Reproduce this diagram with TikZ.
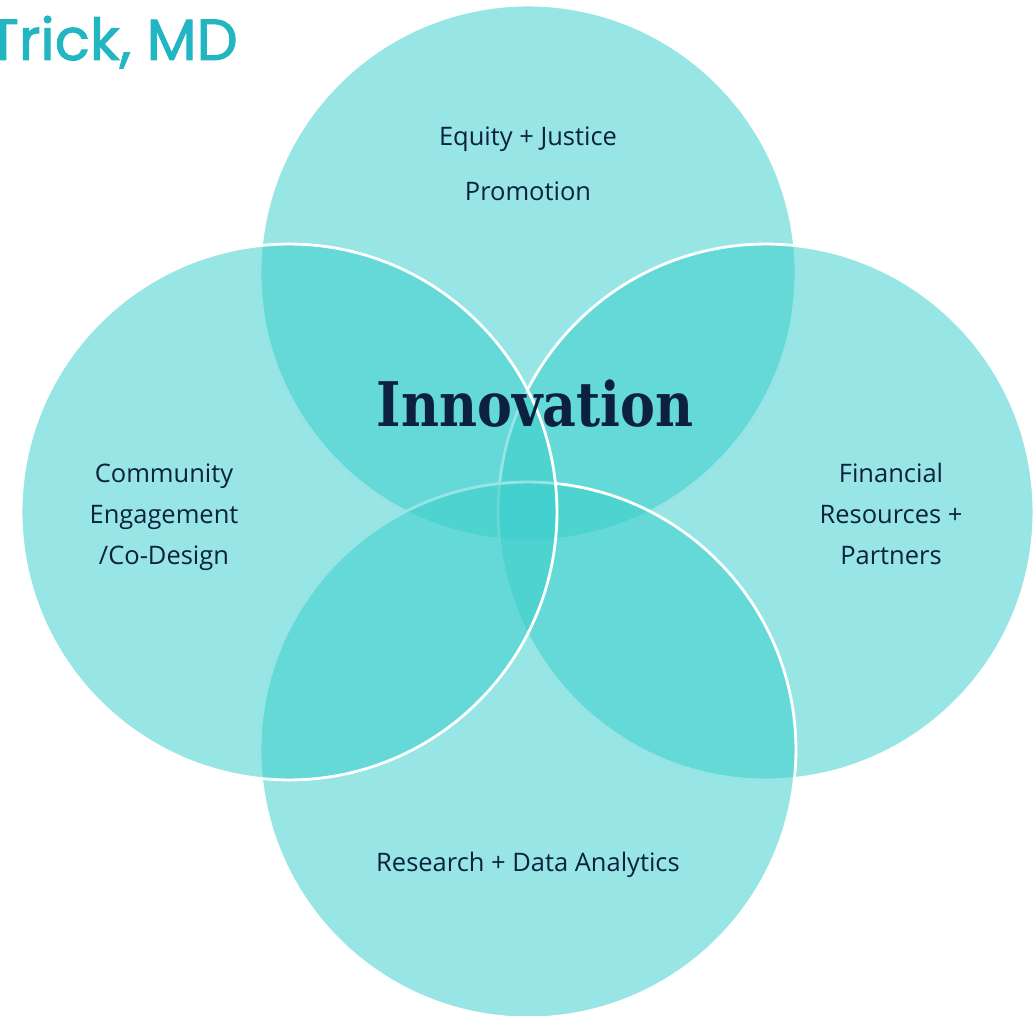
\documentclass[tikz,border=0pt]{standalone}
\usepackage{fontspec}
\setmainfont{Open Sans}
\newfontfamily\titlefont[FakeBold=1.6]{Poppins}
\newfontfamily\bigserif[FakeStretch=0.85]{DejaVu Serif}
\usetikzlibrary{positioning}
\definecolor{petalfill}{RGB}{58,206,204}
\definecolor{inktext}{RGB}{12,33,64}
\definecolor{titleteal}{RGB}{34,181,194}

\begin{document}
\begin{tikzpicture}[x=0.02cm, y=-0.02cm,
    petal/.style={circle, minimum size=10.72cm, inner sep=0pt, fill=petalfill,
      fill opacity=0.53, draw=white, draw opacity=1, line width=1.6pt},
    lbl/.style={text=inktext, align=center, font=\fontsize{14.5}{23.3}\selectfont}]
  \useasboundingbox (0,0) rectangle (1035,1016);
  % four overlapping circles, drawn back to front
  \node[petal] (equity) at (528,273) {};
  \node[petal] (finance) at (766,512) {};
  \node[petal] (research) at (528,750) {};
  \node[petal] (community) at (289,512) {};
  % labels
  \node[lbl, font=\fontsize{14.5}{31}\selectfont] (equitytxt) at (528,164) {Equity + Justice\\Promotion};
  \node[lbl] (communitytxt) at (164,517) {Community\\Engagement\\/Co-Design};
  \node[lbl] (financetxt) at (891,514) {Financial\\Resources +\\Partners};
  \node[lbl] (researchtxt) at (528,865) {Research + Data Analytics};
  \node[text=inktext, font=\bigserif\bfseries\fontsize{35}{40}\selectfont] (innov) at (535,404) {Innovation};
  \node[text=titleteal, anchor=base east, inner sep=0pt, font=\titlefont\fontsize{33}{36}\selectfont] (title) at (238,60) {Trick, MD};
\end{tikzpicture}
\end{document}
